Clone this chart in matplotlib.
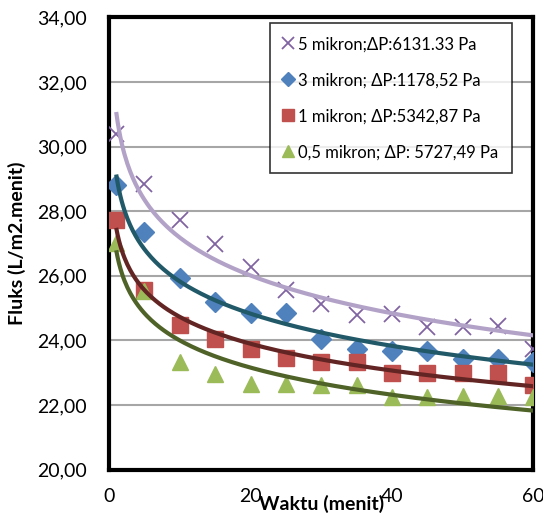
import matplotlib

matplotlib.use("Agg")
import matplotlib.pyplot as plt
import numpy as np
from matplotlib.ticker import FuncFormatter

plt.rcParams["font.family"] = ["Lato", "DejaVu Sans"]

# Waktu (menit)
waktu = [1, 5, 10, 15, 20, 25, 30, 35, 40, 45, 50, 55, 60]

# Fluks (L/m2.menit) per ukuran membran
fluks_5 = [30.40, 28.83, 27.74, 27.00, 26.27, 25.56, 25.13, 24.78, 24.82, 24.42, 24.42, 24.44, 23.75]
fluks_3 = [28.80, 27.36, 25.92, 25.18, 24.85, 24.85, 24.04, 23.73, 23.69, 23.69, 23.42, 23.42, 23.33]
fluks_1 = [27.72, 25.56, 24.47, 24.06, 23.75, 23.47, 23.35, 23.35, 22.98, 22.98, 22.98, 22.98, 22.62]
fluks_05 = [27.02, 25.52, 23.32, 22.97, 22.66, 22.66, 22.62, 22.62, 22.24, 22.24, 22.28, 22.28, 22.24]

labels = [
    "5 mikron;\u0394P:6131.33 Pa",
    "3 mikron; \u0394P:1178,52 Pa",
    "1 mikron; \u0394P:5342,87 Pa",
    "0,5 mikron; \u0394P: 5727,49 Pa",
]

series = [
    (fluks_5, "x", 12, "#8064a2", "#b3a2c7"),
    (fluks_3, "D", 10, "#4f81bd", "#215968"),
    (fluks_1, "s", 12, "#c0504d", "#632523"),
    (fluks_05, "^", 12, "#9bbb59", "#4f6228"),
]

fig = plt.figure(figsize=(5.43, 5.22), dpi=100)
ax = fig.add_axes([0.201, 0.100, 0.781, 0.867])

t = np.array(waktu, dtype=float)
t_fit = np.linspace(1, 60, 300)
handles = []
for (vals, marker, ms, mcolor, lcolor), lab in zip(series, labels):
    if marker == "x":
        h, = ax.plot(t, vals, linestyle="none", marker=marker, markersize=ms,
                     markeredgewidth=1.3, color=mcolor, label=lab, zorder=3)
    else:
        h, = ax.plot(t, vals, linestyle="none", marker=marker, markersize=ms,
                     color=mcolor, markeredgecolor=mcolor, label=lab, zorder=3)
    handles.append(h)
    # logarithmic trendline (Excel style)
    b, a = np.polyfit(np.log(t), vals, 1)
    ax.plot(t_fit, a + b * np.log(t_fit), color=lcolor, linewidth=3, zorder=4,
            solid_capstyle="butt")

ax.set_xlim(0, 60)
ax.set_ylim(20, 34)
ax.set_xticks([0, 20, 40, 60])
ax.set_yticks(np.arange(20, 34.1, 2))
ax.yaxis.set_major_formatter(FuncFormatter(lambda v, p: f"{v:.2f}".replace(".", ",")))
ax.tick_params(axis="both", length=0, labelsize=14)
ax.tick_params(axis="y", pad=16)
ax.tick_params(axis="x", pad=13)
ax.grid(axis="y", color="#a6a6a6", linewidth=1.5)
ax.set_axisbelow(True)
for sp in ax.spines.values():
    sp.set_linewidth(3)
    sp.set_color("black")

ax.set_xlabel("Waktu (menit)", fontsize=14, fontweight="bold", labelpad=-7)
ax.set_ylabel("Fluks (L/m2.menit)", fontsize=14, fontweight="bold", labelpad=8)

leg = ax.legend(handles=handles, loc="upper right", bbox_to_anchor=(0.957, 0.995),
                fontsize=12, frameon=True, fancybox=False, edgecolor="black",
                handlelength=0.6, handletextpad=0.3, labelspacing=1.2,
                borderpad=0.8, markerscale=0.75, borderaxespad=0.2)
leg.get_frame().set_linewidth(1.2)

fig.savefig("out.png", dpi=100)
